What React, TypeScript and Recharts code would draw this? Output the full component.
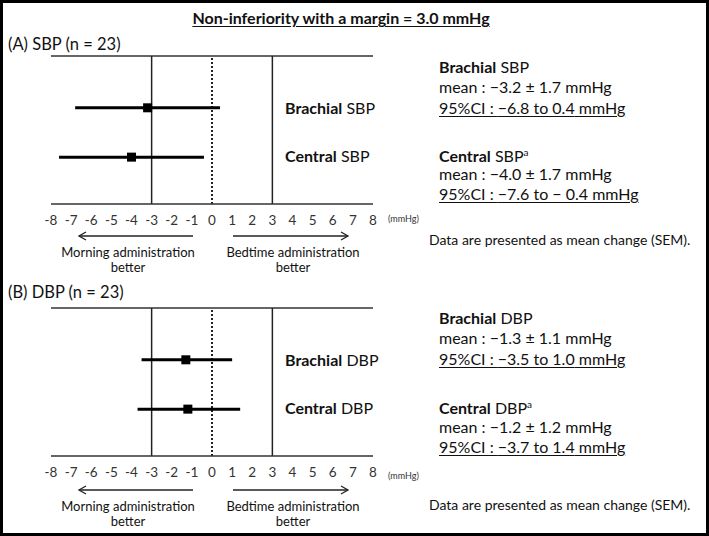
import React from 'react'
import { ScatterChart, Scatter, XAxis, YAxis, ReferenceLine } from 'recharts'

const FONT = 'Lato, "Open Sans", sans-serif'

// x axis: change in mmHg, bedtime minus morning
const xTicks = [-8, -7, -6, -5, -4, -3, -2, -1, 0, 1, 2, 3, 4, 5, 6, 7, 8]
const niMargin = 3
const rowPos = [1, 2]
const rowNames = ['Brachial', 'Central']

// (A) SBP
const sbpMean = [-3.2, -4.0]
const sbpLow = [-6.8, -7.6]
const sbpHigh = [0.4, -0.4]
const sbpSem = [1.7, 1.7]
const sbpCiText = ['\u22126.8 to 0.4', '\u22127.6 to \u2212 0.4']

// (B) DBP
const dbpMean = [-1.3, -1.2]
const dbpLow = [-3.5, -3.7]
const dbpHigh = [1.0, 1.4]
const dbpSem = [1.1, 1.2]
const dbpCiText = ['\u22123.5 to 1.0', '\u22123.7 to 1.4']

const fmt = (v: number) => (v < 0 ? '\u2212' + Math.abs(v).toFixed(1) : v.toFixed(1))

function T({ x, y, size = 15, center = false, bold = false, children, style }: any) {
  return (
    <div
      style={{
        position: 'absolute',
        left: x,
        top: y,
        transform: center ? 'translate(-50%, -50%)' : 'translateY(-50%)',
        fontSize: size,
        fontWeight: bold ? 700 : 400,
        lineHeight: 1,
        whiteSpace: 'nowrap',
        color: '#111',
        ...style,
      }}
    >
      {children}
    </div>
  )
}

const Square = ({ cx, cy }: any) => <rect x={cx - 4.5} y={cy - 4.5} width={9} height={9} fill="#000" />
const NoDot = () => <g />

function ForestPlot({ top, means, lows, highs }: { top: number; means: number[]; lows: number[]; highs: number[] }) {
  const pts = means.map((m, i) => ({ x: m, y: rowPos[i] }))
  return (
    <div style={{ position: 'absolute', left: 0, top }}>
      <ScatterChart width={709} height={194} margin={{ top: 16, right: 336, bottom: 0, left: 51 }}>
        <XAxis
          type="number"
          dataKey="x"
          domain={[-8, 8]}
          ticks={xTicks}
          interval={0}
          height={30}
          tickLine={false}
          tickSize={6}
          tickMargin={5}
          axisLine={{ stroke: '#333', strokeWidth: 1.5 }}
          tick={{ fontSize: 13.5, fill: '#333', fontFamily: FONT }}
        />
        <YAxis type="number" dataKey="y" domain={[-0.05, 2.95]} reversed hide />
        <ReferenceLine y={-0.05} stroke="#333" strokeWidth={1.5} />
        <ReferenceLine x={-niMargin} stroke="#222" strokeWidth={1.5} />
        <ReferenceLine x={niMargin} stroke="#222" strokeWidth={1.5} />
        <ReferenceLine x={0} stroke="#222" strokeWidth={2} strokeDasharray="2 2" />
        {lows.map((lo, i) => (
          <Scatter
            key={i}
            data={[{ x: lo, y: rowPos[i] }, { x: highs[i], y: rowPos[i] }]}
            line={{ stroke: '#000', strokeWidth: 3 }}
            shape={NoDot}
            isAnimationActive={false}
          />
        ))}
        <Scatter data={pts} shape={Square} isAnimationActive={false} />
      </ScatterChart>
    </div>
  )
}

function Arrow({ x1, x2, y }: { x1: number; x2: number; y: number }) {
  const d = x2 > x1 ? -1 : 1
  return (
    <svg style={{ position: 'absolute', left: 0, top: 0, overflow: 'visible' }} width={1} height={1}>
      <line x1={x1} x2={x2} y1={y} y2={y} stroke="#222" strokeWidth={1.3} />
      <polyline points={`${x2 + d * 7},${y - 4} ${x2},${y} ${x2 + d * 7},${y + 4}`} fill="none" stroke="#222" strokeWidth={1.3} />
    </svg>
  )
}

function Panel({ label, bp, top, means, lows, highs, sems, ciText, pos }: any) {
  return (
    <>
      <T x={8} y={pos.heading} size={16.5}>{label}</T>
      <ForestPlot top={top} means={means} lows={lows} highs={highs} />
      {rowNames.map((n, i) => (
        <T key={n} x={285} y={pos.rows[i]} size={16}>
          <b>{n}</b> {bp}
        </T>
      ))}
      <T x={388} y={pos.unit} size={9} style={{ color: '#333' }}>(mmHg)</T>
      <Arrow x1={193} x2={79} y={pos.arrow} />
      <Arrow x1={233} x2={348} y={pos.arrow} />
      <T x={128} y={pos.better1} size={13} center>Morning administration</T>
      <T x={128} y={pos.better2} size={13} center>better</T>
      <T x={293} y={pos.better1} size={13} center>Bedtime administration</T>
      <T x={293} y={pos.better2} size={13} center>better</T>
      {rowNames.map((n, i) => (
        <React.Fragment key={n}>
          <T x={439} y={pos.text[i * 3]} size={16}>
            <b>{n}</b> {bp}
            {i === 1 && <span style={{ fontSize: 10, verticalAlign: 6 }}>a</span>}
          </T>
          <T x={439} y={pos.text[i * 3 + 1]} size={16}>
            mean : {fmt(means[i])} ± {sems[i].toFixed(1)} mmHg
          </T>
          <T x={439} y={pos.text[i * 3 + 2]} size={16} style={{ textDecoration: 'underline', textUnderlineOffset: 2 }}>
            95%CI : {ciText[i]} mmHg
          </T>
        </React.Fragment>
      ))}
      <T x={429} y={pos.note} size={14}>Data are presented as mean change (SEM).</T>
    </>
  )
}

export default function App() {
  return (
    <div
      style={{
        position: 'absolute',
        left: 0,
        top: 0,
        width: 709,
        height: 536,
        boxSizing: 'border-box',
        border: '3px solid #000',
        background: '#fff',
        fontFamily: FONT,
      }}
    >
      <div style={{ position: 'absolute', left: -3, top: -3, width: 709, height: 536 }}>
        <T x={341} y={18} size={16} bold center style={{ textDecoration: 'underline', textUnderlineOffset: 2 }}>
          Non-inferiority with a margin = 3.0 mmHg
        </T>
        <Panel
          label="(A) SBP (n = 23)"
          bp="SBP"
          top={40}
          means={sbpMean}
          lows={sbpLow}
          highs={sbpHigh}
          sems={sbpSem}
          ciText={sbpCiText}
          pos={{ heading: 44, rows: [108, 156], unit: 218, arrow: 236, better1: 252, better2: 267, text: [67, 87, 108, 155, 174, 194], note: 240 }}
        />
        <Panel
          label="(B) DBP (n = 23)"
          bp="DBP"
          top={292}
          means={dbpMean}
          lows={dbpLow}
          highs={dbpHigh}
          sems={dbpSem}
          ciText={dbpCiText}
          pos={{ heading: 292, rows: [360, 408], unit: 475, arrow: 490, better1: 506, better2: 521, text: [318, 338, 359, 407, 427, 447], note: 505 }}
        />
      </div>
    </div>
  )
}
